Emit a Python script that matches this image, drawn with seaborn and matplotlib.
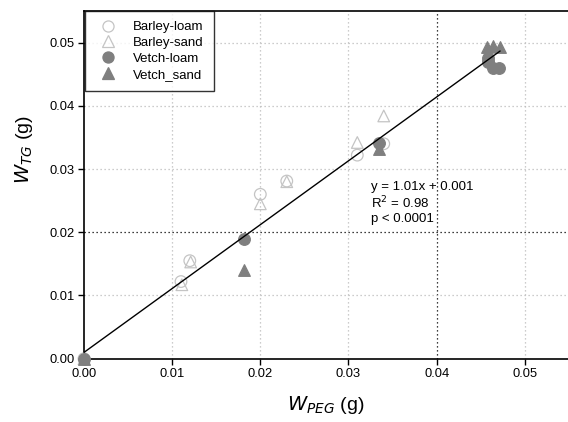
import matplotlib
matplotlib.use("Agg")
import matplotlib.pyplot as plt
from matplotlib.lines import Line2D
import numpy as np
import pandas as pd
import seaborn as sns

sns.set_style("white")
plt.rcParams["font.family"] = ["Liberation Sans", "DejaVu Sans"]
plt.rcParams["text.color"] = "black"
plt.rcParams["axes.labelcolor"] = "black"
plt.rcParams["xtick.color"] = "black"
plt.rcParams["ytick.color"] = "black"

# Treatment groups
groups = ["Barley-loam", "Barley-sand", "Vetch-loam", "Vetch_sand"]

# Weight from PEG (x) and weight from TG (y), grams
barley_loam_x = [0.0, 0.0110, 0.0120, 0.0200, 0.0230, 0.0310, 0.0340]
barley_loam_y = [0.0, 0.0122, 0.0155, 0.0260, 0.0281, 0.0322, 0.0340]
barley_sand_x = [0.0, 0.0111, 0.0121, 0.0200, 0.0230, 0.0310, 0.0340]
barley_sand_y = [0.0, 0.0117, 0.0153, 0.0245, 0.0280, 0.0342, 0.0384]
vetch_loam_x = [0.0, 0.0181, 0.0335, 0.0458, 0.0458, 0.0464, 0.0471]
vetch_loam_y = [0.0, 0.0189, 0.0341, 0.0475, 0.0470, 0.0460, 0.0460]
vetch_sand_x = [0.0, 0.0182, 0.0335, 0.0457, 0.0458, 0.0464, 0.0472]
vetch_sand_y = [0.0, 0.0140, 0.0332, 0.0493, 0.0480, 0.0494, 0.0493]

# Regression reported on the chart
slope = 1.01
intercept = 0.001
r2 = 0.98
fit_x = [0.0, 0.0472]

x_ticks = [0.00, 0.01, 0.02, 0.03, 0.04, 0.05]
y_ticks = [0.00, 0.01, 0.02, 0.03, 0.04, 0.05]

frames = []
for name, xs, ys in [
    ("Barley-loam", barley_loam_x, barley_loam_y),
    ("Barley-sand", barley_sand_x, barley_sand_y),
    ("Vetch-loam", vetch_loam_x, vetch_loam_y),
    ("Vetch_sand", vetch_sand_x, vetch_sand_y),
]:
    frames.append(pd.DataFrame({"peg": xs, "tg": ys, "group": name}))
df = pd.concat(frames, ignore_index=True)

light = "#c4c4c4"
dark = "#7f7f7f"
styles = {
    "Barley-loam": dict(marker="o", fc="none", ec=light),
    "Barley-sand": dict(marker="^", fc="none", ec=light),
    "Vetch-loam": dict(marker="o", fc=dark, ec=dark),
    "Vetch_sand": dict(marker="^", fc=dark, ec=dark),
}

fig = plt.figure(figsize=(5.68, 4.22), dpi=100)
ax = fig.add_axes([84 / 568, 63.3 / 422, 484 / 568, 347.7 / 422])

# Grid
for t in x_ticks[1:]:
    c = "black" if abs(t - 0.04) < 1e-9 else "#bcbcbc"
    ax.axvline(t, color=c, lw=0.9, ls=(0, (1, 2.2)), zorder=0)
for t in y_ticks[1:]:
    c = "black" if abs(t - 0.02) < 1e-9 else "#bcbcbc"
    ax.axhline(t, color=c, lw=0.9, ls=(0, (1, 2.2)), zorder=0)

for g in groups:
    st = styles[g]
    sns.scatterplot(
        data=df[df["group"] == g], x="peg", y="tg", ax=ax,
        marker=st["marker"], s=70, facecolors=st["fc"], edgecolors=st["ec"],
        linewidth=0.9, clip_on=False, zorder=3, legend=False,
    )

fx = np.array(fit_x)
sns.lineplot(x=fx, y=slope * fx + intercept, ax=ax, color="black", lw=1.0,
             zorder=4, clip_on=False)

ax.text(0.0326, 0.0272, f"y = {slope:.2f}x + {intercept:.3f}", fontsize=9.5, va="center")
ax.text(0.0326, 0.0246, f"R$^2$ = {r2:.2f}", fontsize=9.5, va="center")
ax.text(0.0326, 0.0221, "p < 0.0001", fontsize=9.5, va="center")

ax.set_xlim(0, 0.0549)
ax.set_ylim(0, 0.055)
ax.set_xticks(x_ticks)
ax.set_yticks(y_ticks)
ax.set_xticklabels([f"{t:.2f}" for t in x_ticks], fontsize=9.3)
ax.set_yticklabels([f"{t:.2f}" for t in y_ticks], fontsize=9.3)
ax.tick_params(direction="out", length=4, width=1, color="black", pad=3)
ax.xaxis.set_ticks_position("bottom")
ax.yaxis.set_ticks_position("left")
for side in ["left", "bottom", "top"]:
    ax.spines[side].set_color("black")
    ax.spines[side].set_linewidth(1.2)
ax.spines["right"].set_visible(False)

ax.set_xlabel("$W_{PEG}$ (g)", fontsize=14, labelpad=10)
ax.set_ylabel("$W_{TG}$ (g)", fontsize=14, labelpad=10, y=0.6)

handles = [
    Line2D([], [], ls="none", marker=styles[g]["marker"], markersize=8,
           markerfacecolor=styles[g]["fc"], markeredgecolor=styles[g]["ec"],
           markeredgewidth=0.9)
    for g in groups
]
leg = ax.legend(handles, groups, loc="upper left", bbox_to_anchor=(0.002, 1.0),
                borderaxespad=0, frameon=True, fancybox=False, fontsize=9.5,
                handletextpad=0.9, labelspacing=0.28, borderpad=0.75)
leg.get_frame().set_edgecolor("black")
leg.get_frame().set_linewidth(1.0)

fig.savefig("out.png", dpi=100)
